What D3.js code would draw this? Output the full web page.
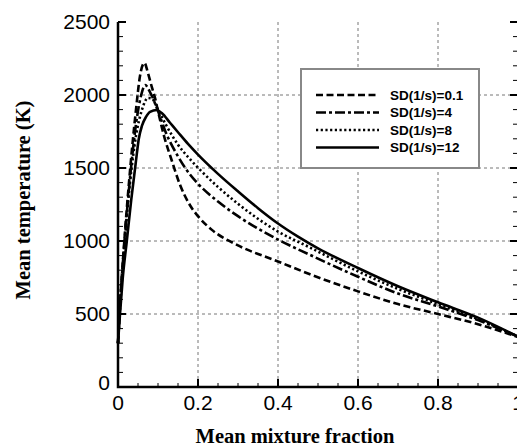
<!DOCTYPE html>
<html>
<head>
<meta charset="utf-8">
<script src="https://cdn.jsdelivr.net/npm/d3@7"></script>
<style>
  body { margin: 0; background: #fff; }
  svg { display: block; }
</style>
</head>
<body>
<svg width="517" height="447"></svg>
<script>
// mean mixture fraction / mean temperature (K)
let labels = ["SD(1/s)=0.1", "SD(1/s)=4", "SD(1/s)=8", "SD(1/s)=12"]

let zSd01 = [0, 0.005, 0.015, 0.03, 0.045, 0.055, 0.066, 0.075, 0.085, 0.0925, 0.1, 0.115, 0.134, 0.155, 0.18, 0.2, 0.234, 0.3, 0.4, 0.48, 0.6, 0.7, 0.8, 0.9, 1]
let tSd01 = [300, 560, 970, 1480, 1900, 2130, 2220, 2150, 2050, 1980, 1890, 1720, 1555, 1385, 1245, 1170, 1078, 970, 860, 772, 655, 568, 500, 430, 342]

let zSd4 = [0, 0.005, 0.015, 0.03, 0.045, 0.058, 0.068, 0.08, 0.1, 0.12, 0.15, 0.18, 0.2, 0.25, 0.3, 0.4, 0.48, 0.6, 0.7, 0.8, 0.9, 1]
let tSd4 = [300, 560, 950, 1430, 1800, 2000, 2068, 2020, 1890, 1740, 1580, 1455, 1392, 1270, 1170, 1010, 905, 755, 640, 552, 458, 345]

let zSd8 = [0, 0.005, 0.015, 0.03, 0.045, 0.06, 0.075, 0.085, 0.1, 0.12, 0.15, 0.18, 0.2, 0.25, 0.3, 0.35, 0.4, 0.48, 0.6, 0.7, 0.8, 0.9, 1]
let tSd8 = [300, 540, 930, 1400, 1720, 1900, 1980, 1975, 1900, 1795, 1660, 1560, 1502, 1370, 1255, 1152, 1065, 955, 792, 672, 568, 465, 345]

let zSd12 = [0, 0.005, 0.012, 0.022, 0.033, 0.045, 0.052, 0.06, 0.07, 0.08, 0.097, 0.11, 0.13, 0.15, 0.175, 0.2, 0.25, 0.3, 0.35, 0.4, 0.45, 0.5, 0.6, 0.7, 0.8, 0.9, 1]
let tSd12 = [300, 500, 750, 1000, 1280, 1550, 1700, 1790, 1850, 1885, 1897, 1875, 1810, 1745, 1665, 1592, 1460, 1340, 1225, 1120, 1030, 950, 815, 690, 580, 475, 345]

let xTicks = [0, 0.2, 0.4, 0.6, 0.8, 1]
let yTicks = [0, 500, 1000, 1500, 2000, 2500]

var svg = d3.select("svg")
var pL = 118, pR = 518, pT = 22, pB = 387

var x = d3.scaleLinear().domain([0, 1]).range([pL, pR])
var y = d3.scaleLinear().domain([0, 2500]).range([pB, pT])

var series = [
    { name: labels[0], z: zSd01, t: tSd01, dash: "7,3.5" },
    { name: labels[1], z: zSd4, t: tSd4, dash: "10,3,3,3" },
    { name: labels[2], z: zSd8, t: tSd8, dash: "2.2,2.5" },
    { name: labels[3], z: zSd12, t: tSd12, dash: null }
]

// grid
var grid = svg.append("g").attr("stroke", "#777").attr("stroke-width", 1).attr("stroke-dasharray", "3,3")
grid.selectAll(".gx").data(xTicks.slice(1, -1)).enter().append("line")
    .attr("x1", d => x(d)).attr("x2", d => x(d)).attr("y1", pT).attr("y2", pB)
grid.selectAll(".gy").data(yTicks.slice(1, -1)).enter().append("line")
    .attr("x1", pL).attr("x2", pR).attr("y1", d => y(d)).attr("y2", d => y(d))

// curves
var line = d3.line().curve(d3.curveMonotoneX)
series.forEach(function (s) {
    svg.append("path")
        .datum(s.z.map((z, i) => [x(z), y(s.t[i])]))
        .attr("fill", "none")
        .attr("stroke", "#000")
        .attr("stroke-width", 2.6)
        .attr("stroke-dasharray", s.dash)
        .attr("d", line)
})

// axes (ticks inward, tecplot style)
var xMinor = d3.range(0, 1.0001, 0.05)
var yMinor = d3.range(0, 2500.1, 100)

var ax = svg.append("g").attr("stroke", "#000")
ax.selectAll(".bx").data(xMinor).enter().append("line")
    .attr("x1", d => x(d)).attr("x2", d => x(d))
    .attr("y1", pB).attr("y2", (d, i) => pB - (i % 4 === 0 ? 8 : 4))
    .attr("stroke-width", (d, i) => i % 4 === 0 ? 2 : 1)
ax.selectAll(".ly").data(yMinor).enter().append("line")
    .attr("y1", d => y(d)).attr("y2", d => y(d))
    .attr("x1", pL).attr("x2", (d, i) => pL + (i % 5 === 0 ? 8 : 5))
    .attr("stroke-width", (d, i) => i % 5 === 0 ? 2 : 1)
ax.selectAll(".ry").data(yMinor).enter().append("line")
    .attr("y1", d => y(d)).attr("y2", d => y(d))
    .attr("x1", pR).attr("x2", (d, i) => pR - (i % 5 === 0 ? 8 : 5))
    .attr("stroke-width", (d, i) => i % 5 === 0 ? 2 : 1)

svg.append("path")
    .attr("d", "M" + pL + "," + pT + "V" + pB + "H" + pR)
    .attr("fill", "none").attr("stroke", "#000").attr("stroke-width", 2.5)

// tick labels
svg.selectAll(".xl").data(xTicks).enter().append("text")
    .attr("x", d => x(d)).attr("y", 410)
    .attr("text-anchor", "middle")
    .attr("font-family", "Liberation Sans, Arial, sans-serif").attr("font-size", "21px")
    .text(d => d3.format("~g")(d))
svg.selectAll(".yl").data(yTicks).enter().append("text")
    .attr("x", 110).attr("y", d => y(d) - (d === 0 ? 4 : 0)).attr("dy", "0.35em")
    .attr("text-anchor", "end")
    .attr("font-family", "Liberation Sans, Arial, sans-serif").attr("font-size", "21px")
    .text(d => d)

// axis titles
svg.append("text")
    .attr("x", 295).attr("y", 443)
    .attr("text-anchor", "middle")
    .attr("font-family", "Liberation Serif, Times New Roman, serif")
    .attr("font-weight", "bold").attr("font-size", "20.5px")
    .text("Mean mixture fraction")
svg.append("text")
    .attr("transform", "translate(30,200) rotate(-90)")
    .attr("text-anchor", "middle")
    .attr("font-family", "Liberation Serif, Times New Roman, serif")
    .attr("font-weight", "bold").attr("font-size", "20.5px")
    .text("Mean temperature (K)")

// legend
var lg = svg.append("g")
lg.append("rect").attr("x", 301).attr("y", 69).attr("width", 178).attr("height", 99)
    .attr("fill", "#fff").attr("stroke", "#888").attr("stroke-width", 2)
series.forEach(function (s, i) {
    var ly = 95 + i * 17.5
    lg.append("line").attr("x1", 316).attr("x2", 379).attr("y1", ly).attr("y2", ly)
        .attr("stroke", "#000").attr("stroke-width", 2.6).attr("stroke-dasharray", s.dash)
    lg.append("text").attr("x", 390).attr("y", ly).attr("dy", "0.36em")
        .attr("font-family", "Liberation Sans, Arial, sans-serif")
        .attr("font-weight", "bold").attr("font-size", "13.5px")
        .text(s.name)
})
</script>
</body>
</html>
